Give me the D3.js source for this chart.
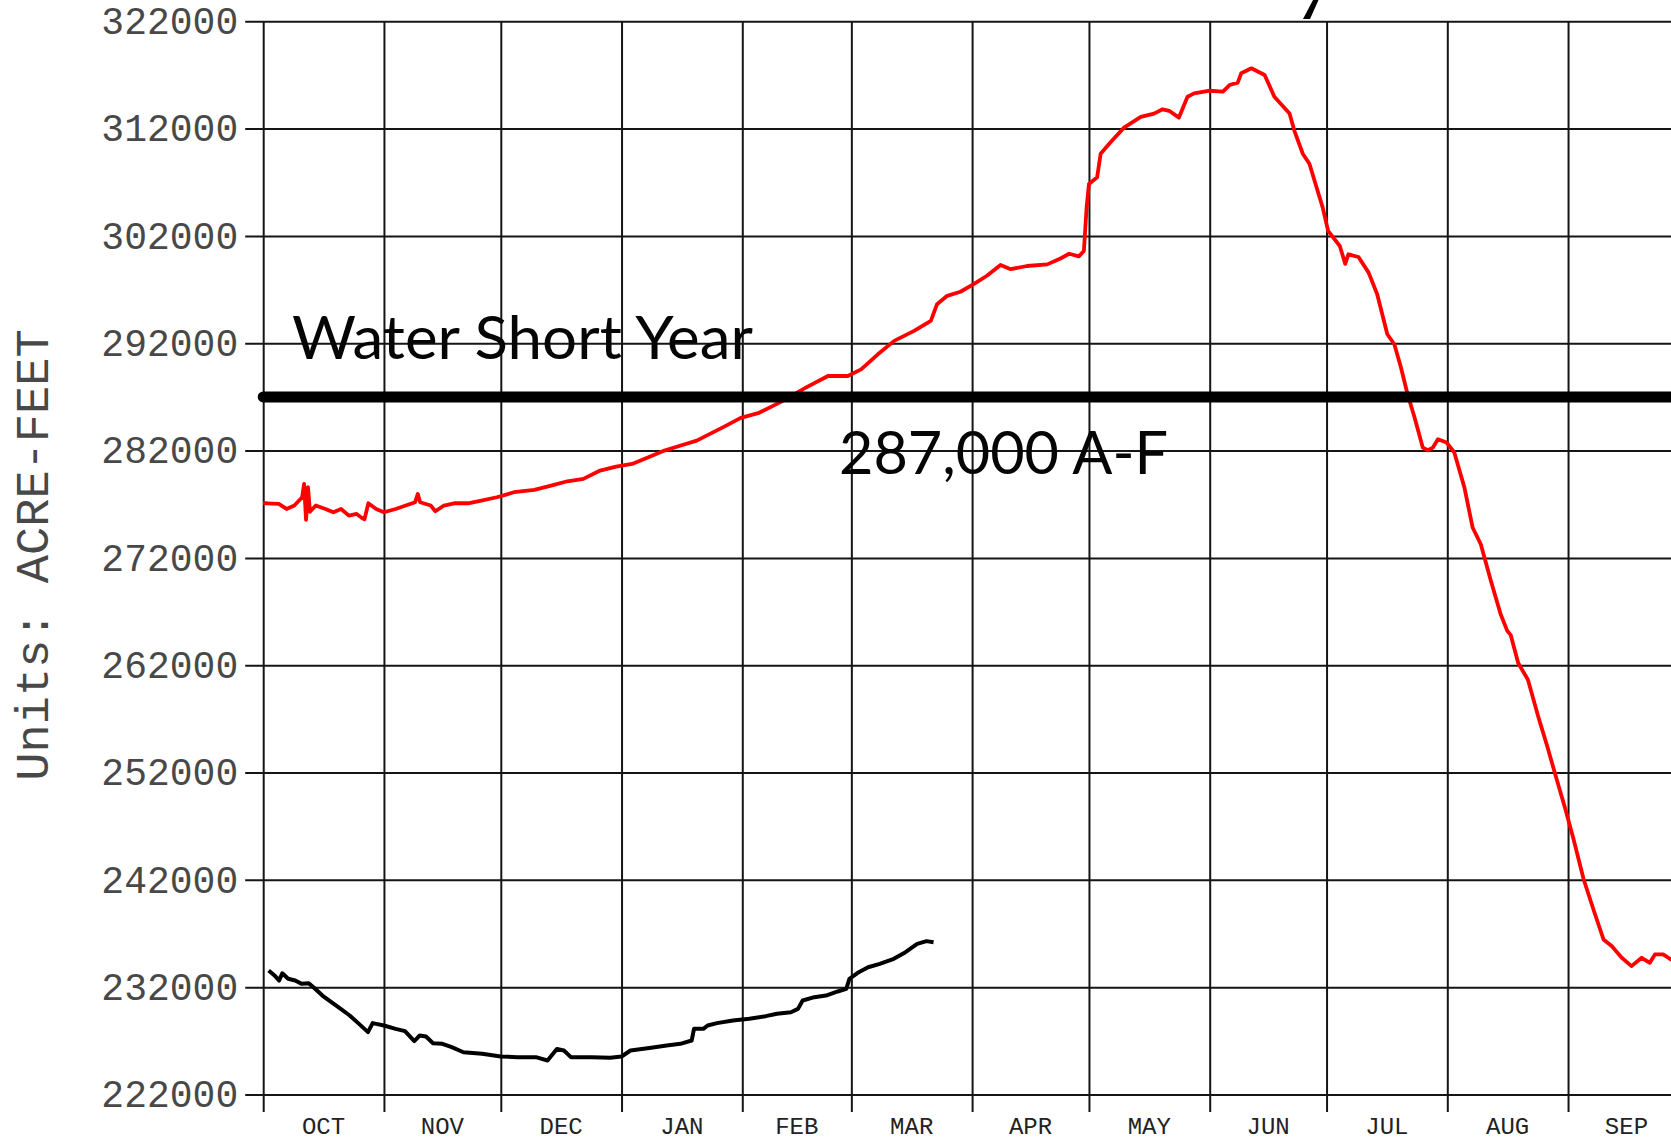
<!DOCTYPE html>
<html>
<head>
<meta charset="utf-8">
<script src="https://cdn.jsdelivr.net/npm/d3@7"></script>
<style>
  html, body { margin: 0; padding: 0; background: #fff; }
  svg { display: block; }
</style>
</head>
<body>
<svg id="chart" width="1671" height="1142"></svg>
<script>
// ---- data ----------------------------------------------------------------
// Water year runs Oct 1 .. Sep 30; day offsets are counted from Oct 1.
const monthLabels = ["OCT", "NOV", "DEC", "JAN", "FEB", "MAR", "APR", "MAY", "JUN", "JUL", "AUG", "SEP"];
const yTicks = [222000, 232000, 242000, 252000, 262000, 272000, 282000, 292000, 302000, 312000, 322000];
const shortageLevel = 287000;
const shortageTitle = "Water Short Year";
const shortageLabel = "287,000 A-F";
const axisTitle = "Units: ACRE-FEET";

// previous water year (red trace), storage in acre-feet
const lastYearDays = [
  0, 1, 4, 6, 8, 10, 10.5, 11, 11.5, 12,
  13.5, 16, 18, 20, 22, 24, 25.3, 26, 27, 29,
  31, 34, 36.6, 39, 39.7, 40.3, 43, 44.2, 46.4, 49,
  52.6, 56, 60, 64.4, 69.6, 73.9, 78.1, 82.2, 86.5, 90.6,
  94.7, 98.9, 103, 107.2, 111.3, 118.5, 122.6, 127.3, 133.3, 139.3,
  145, 150.1, 153.5, 157.8, 162, 167.1, 171.4, 173, 175.6, 179,
  182.4, 185.8, 189.3, 191.9, 196.1, 201.3, 204.7, 206.9, 209.4, 210.7,
  211.4, 212, 214.1, 215, 217.6, 221, 225.3, 228.7, 230.9, 232.6,
  235.1, 237.3, 239, 243, 246.4, 248.1, 250.2, 251.1, 253.7, 257.1,
  259.6, 263.5, 264.7, 266.9, 268.6, 272, 273.4, 276.4, 277.8, 278.6,
  281.2, 283.8, 286, 288.6, 290.4, 292.1, 293.8, 295.6, 297.7, 299,
  300.3, 301.6, 303.8, 305.8, 308.4, 310.5, 312.6, 315.2, 317.7, 319.4,
  320.3, 322.2, 324.7, 327.5, 329.6, 331.8, 334.3, 336.4, 339, 341.5,
  344.1, 346.2, 348.8, 351.3, 353.9, 356, 357.3, 359.4, 361.4, 364
];
const lastYearStorage = [
  277100, 277090, 277030, 276560, 276880, 277650, 278900, 275540, 278600, 276300,
  276880, 276560, 276250, 276560, 275940, 276100, 275730, 275600, 277090, 276560,
  276250, 276560, 276880, 277190, 277960, 277190, 276880, 276350, 276880, 277090,
  277090, 277340, 277650, 278120, 278340, 278740, 279140, 279360, 280140, 280510,
  280760, 281380, 282000, 282470, 282930, 284260, 285050, 285520, 286610, 287860,
  288950, 288950, 289570, 290970, 292220, 293150, 294090, 295640, 296420, 296800,
  297510, 298290, 299300, 298900, 299200, 299350, 299900, 300340, 300100, 300600,
  304660, 306840, 307470, 309660, 310750, 312090, 313090, 313400, 313800, 313660,
  313030, 314970, 315280, 315530, 315440, 316060, 316280, 317160, 317620, 317000,
  314970, 313400, 311840, 309660, 308720, 304660, 302470, 301060, 299400, 300290,
  300040, 298580, 296560, 292840, 291910, 289740, 287250, 285080, 282280, 282030,
  282280, 283060, 282750, 281820, 278550, 274830, 273270, 269850, 266750, 265200,
  264800, 262200, 260650, 257020, 254520, 251720, 248600, 245800, 242060, 239260,
  236450, 235830, 234740, 233960, 234740, 234270, 235050, 235050, 234580, 234500
];

// current water year to date (black trace)
const thisYearDays = [
  1.4, 2.9, 4.1, 4.9, 6.4, 8.2, 9.9, 11.7, 12.9, 15.2,
  17.5, 19.9, 22.2, 24.6, 26.9, 28.1, 31, 34, 36.4, 38.8,
  40.2, 41.8, 43.6, 46, 48.4, 51.4, 56.2, 61, 65.2, 70,
  73, 75.4, 77.2, 79, 84.4, 89.1, 92, 94.3, 99.6, 103.6,
  107.1, 110, 110.6, 113, 114.1, 116.5, 120.6, 124.8, 129, 131.9,
  135.5, 137.3, 138.5, 141.5, 144.5, 147.5, 149.7, 150.5, 152.9, 155.3,
  158.3, 161.9, 164.9, 167.9, 170.3, 172.1
];
const thisYearStorage = [
  233550, 233090, 232620, 233300, 232780, 232620, 232310, 232370, 232000, 231220,
  230600, 229980, 229360, 228580, 227810, 228650, 228430, 228120, 227900, 226970,
  227500, 227400, 226780, 226720, 226410, 225940, 225790, 225540, 225480, 225480,
  225170, 226250, 226100, 225480, 225480, 225420, 225540, 226100, 226350, 226570,
  226720, 227030, 228120, 228120, 228430, 228650, 228900, 229050, 229300, 229520,
  229670, 229980, 230760, 231070, 231220, 231600, 231840, 232780, 233400, 233860,
  234170, 234640, 235260, 236040, 236290, 236190
];

// ---- layout --------------------------------------------------------------
const W = 1671, H = 1142;
const plot = { left: 263.2, right: 1684.9, top: 21.3, bottom: 1094.5 };
const tickOut = { left: 18, bottom: 17.5 };

const yearStart = new Date(Date.UTC(2014, 9, 1));
const yearEnd = new Date(Date.UTC(2015, 9, 1));
const dayToDate = d => new Date(yearStart.getTime() + d * 86400000);

const x = d3.scaleUtc().domain([yearStart, yearEnd]).range([plot.left, plot.right]);
const y = d3.scaleLinear().domain([222000, 322000]).range([plot.bottom, plot.top]);

const svg = d3.select("#chart");
const gridColor = "#151515";
const monoFont = "'Liberation Mono', 'DejaVu Sans Mono', monospace";

// ---- horizontal grid + value labels (left axis) ---------------------------
const yAxis = d3.axisLeft(y)
  .tickValues(yTicks)
  .tickFormat(d3.format("d"))
  .tickSize(-(W + 20 - (plot.left - tickOut.left)))
  .tickPadding(7);

const gy = svg.append("g")
  .attr("transform", `translate(${plot.left - tickOut.left},0)`)
  .call(yAxis);
gy.select(".domain").remove();
gy.selectAll(".tick line").attr("stroke", gridColor).attr("stroke-width", 2);
gy.selectAll(".tick text")
  .attr("font-family", monoFont)
  .attr("font-size", 38)
  .attr("fill", "#484848")
  .attr("dy", "0.32em");

// ---- vertical month grid (bottom axis) ------------------------------------
const monthStarts = d3.utcMonth.range(yearStart, yearEnd);
const xAxis = d3.axisBottom(x)
  .tickValues(monthStarts)
  .tickFormat("")
  .tickSize(-(plot.bottom + tickOut.bottom - plot.top));

const gx = svg.append("g")
  .attr("transform", `translate(0,${plot.bottom + tickOut.bottom})`)
  .call(xAxis);
gx.select(".domain").remove();
gx.selectAll(".tick line").attr("stroke", gridColor).attr("stroke-width", 2);

// month names centred in each month band
svg.append("g").selectAll("text")
  .data(monthStarts)
  .join("text")
  .attr("x", d => (x(d) + x(d3.utcMonth.offset(d, 1))) / 2)
  .attr("y", 1134)
  .attr("text-anchor", "middle")
  .attr("font-family", monoFont)
  .attr("font-size", 24)
  .attr("fill", "#222")
  .text((d, i) => monthLabels[i]);

// rotated units title
svg.append("text")
  .attr("transform", `translate(48,555) rotate(-90)`)
  .attr("text-anchor", "middle")
  .attr("font-family", monoFont)
  .attr("font-size", 47)
  .attr("fill", "#484848")
  .text(axisTitle);

// ---- storage traces -------------------------------------------------------
const line = d3.line()
  .x(p => x(dayToDate(p[0])))
  .y(p => y(p[1]));

const lastYear = lastYearDays.map((d, i) => [d, lastYearStorage[i]]);
const thisYear = thisYearDays.map((d, i) => [d, thisYearStorage[i]]);

svg.append("path")
  .datum(lastYear)
  .attr("d", line)
  .attr("fill", "none")
  .attr("stroke", "#ff0000")
  .attr("stroke-width", 3.8)
  .attr("stroke-linejoin", "round");

svg.append("path")
  .datum(thisYear)
  .attr("d", line)
  .attr("fill", "none")
  .attr("stroke", "#000")
  .attr("stroke-width", 4)
  .attr("stroke-linejoin", "round");

// ---- shortage threshold ---------------------------------------------------
svg.append("line")
  .attr("x1", x(yearStart))
  .attr("x2", x(yearEnd) + 20)
  .attr("y1", y(shortageLevel))
  .attr("y2", y(shortageLevel))
  .attr("stroke", "#000")
  .attr("stroke-width", 11)
  .attr("stroke-linecap", "round");

const noteFont = "Lato, 'Open Sans', sans-serif";
svg.append("text")
  .attr("x", 292)
  .attr("y", 359)
  .attr("font-family", noteFont)
  .attr("font-size", 60)
  .attr("textLength", 461)
  .attr("lengthAdjust", "spacingAndGlyphs")
  .attr("fill", "#050505")
  .text(shortageTitle);

svg.append("text")
  .attr("x", 839)
  .attr("y", 474)
  .attr("font-family", noteFont)
  .attr("font-size", 60)
  .attr("textLength", 329)
  .attr("lengthAdjust", "spacingAndGlyphs")
  .attr("fill", "#050505")
  .text(shortageLabel);

// stroke of the heading lettering above the frame, cut off at the top edge
svg.append("path")
  .attr("d", "M1313,0 L1318.5,0 L1310,19 L1303,19 Z")
  .attr("fill", "#000");
</script>
</body>
</html>
